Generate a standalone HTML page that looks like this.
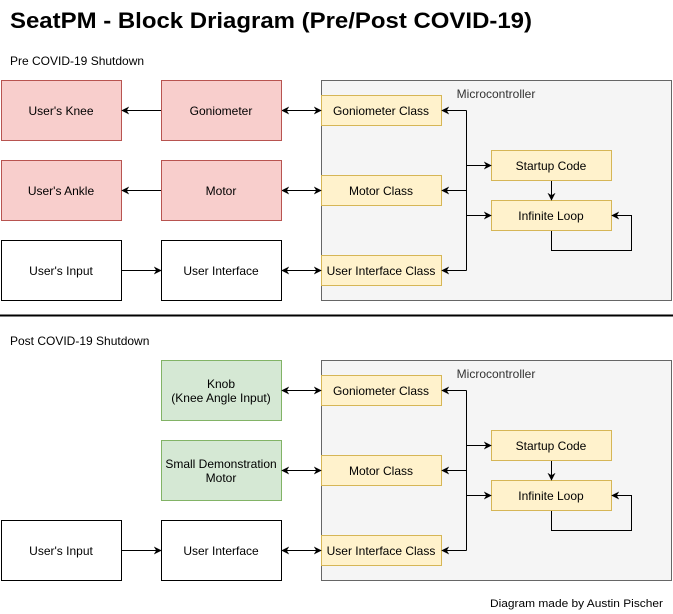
<!DOCTYPE html>
<html><head><meta charset="utf-8"><style>html,body{margin:0;padding:0;background:#fff}svg{display:block}</style></head>
<body>
<svg width="673" height="614" viewBox="0 0 673 614" xmlns="http://www.w3.org/2000/svg" font-family="'Liberation Sans', Arial, sans-serif">
<defs>
<marker id="a" viewBox="0 0 10 10" refX="9" refY="5" markerWidth="8" markerHeight="8" orient="auto-start-reverse" markerUnits="userSpaceOnUse"><path d="M0,0 L10,5 L0,10 L3,5 z" fill="#000"/></marker>
</defs>
<text x="10" y="28" font-size="22" font-weight="bold" textLength="522" lengthAdjust="spacingAndGlyphs">SeatPM - Block Driagram (Pre/Post COVID-19)</text>
<line x1="0" y1="315.5" x2="673" y2="315.5" stroke="#000" stroke-width="2"/>
<text x="10" y="65" font-size="12">Pre COVID-19 Shutdown</text>
<text x="10" y="345" font-size="12">Post COVID-19 Shutdown</text>
<text x="490" y="607" font-size="11" textLength="173" lengthAdjust="spacingAndGlyphs">Diagram made by Austin Pischer</text>

<g id="top">
<rect x="321.5" y="80.5" width="350" height="220" fill="#f5f5f5" stroke="#666"/>
<text x="496" y="98" font-size="12" fill="#333" text-anchor="middle">Microcontroller</text>
<g fill="#fff2cc" stroke="#d6b656">
<rect x="321.5" y="95.5" width="120" height="30"/>
<rect x="321.5" y="175.5" width="120" height="30"/>
<rect x="321.5" y="255.5" width="120" height="30"/>
<rect x="491.5" y="150.5" width="120" height="30"/>
<rect x="491.5" y="200.5" width="120" height="30"/>
</g>
<g font-size="12" text-anchor="middle">
<text x="381" y="115">Goniometer Class</text>
<text x="381" y="195">Motor Class</text>
<text x="381" y="275">User Interface Class</text>
<text x="551" y="170">Startup Code</text>
<text x="551" y="220">Infinite Loop</text>
</g>
<g stroke="#000" fill="none">
<polyline points="466.5,110.5 466.5,270.5"/>
<line x1="466.5" y1="110.5" x2="442" y2="110.5" marker-end="url(#a)"/>
<line x1="466.5" y1="190.5" x2="442" y2="190.5" marker-end="url(#a)"/>
<line x1="466.5" y1="270.5" x2="442" y2="270.5" marker-end="url(#a)"/>
<line x1="466.5" y1="165.5" x2="491" y2="165.5" marker-end="url(#a)"/>
<line x1="466.5" y1="215.5" x2="491" y2="215.5" marker-end="url(#a)"/>
<line x1="551.5" y1="181" x2="551.5" y2="200" marker-end="url(#a)"/>
<polyline points="551.5,231 551.5,250.5 631.5,250.5 631.5,215.5 612,215.5" marker-end="url(#a)"/>
<line x1="282" y1="110.5" x2="321" y2="110.5" marker-start="url(#a)" marker-end="url(#a)"/>
<line x1="282" y1="190.5" x2="321" y2="190.5" marker-start="url(#a)" marker-end="url(#a)"/>
<line x1="282" y1="270.5" x2="321" y2="270.5" marker-start="url(#a)" marker-end="url(#a)"/>
</g>
</g>

<g fill="#f8cecc" stroke="#b85450">
<rect x="1.5" y="80.5" width="120" height="60"/>
<rect x="161.5" y="80.5" width="120" height="60"/>
<rect x="1.5" y="160.5" width="120" height="60"/>
<rect x="161.5" y="160.5" width="120" height="60"/>
</g>
<g fill="#fff" stroke="#000">
<rect x="1.5" y="240.5" width="120" height="60"/>
<rect x="161.5" y="240.5" width="120" height="60"/>
<rect x="1.5" y="520.5" width="120" height="60"/>
<rect x="161.5" y="520.5" width="120" height="60"/>
</g>
<g fill="#d5e8d4" stroke="#82b366">
<rect x="161.5" y="360.5" width="120" height="60"/>
<rect x="161.5" y="440.5" width="120" height="60"/>
</g>
<g font-size="12" text-anchor="middle">
<text x="61" y="115">User's Knee</text>
<text x="221" y="115">Goniometer</text>
<text x="61" y="195">User's Ankle</text>
<text x="221" y="195">Motor</text>
<text x="61" y="275">User's Input</text>
<text x="221" y="275">User Interface</text>
<text x="61" y="555">User's Input</text>
<text x="221" y="555">User Interface</text>
<text x="221" y="388">Knob</text>
<text x="221" y="402">(Knee Angle Input)</text>
<text x="221" y="468">Small Demonstration</text>
<text x="221" y="482">Motor</text>
</g>
<g stroke="#000" fill="none">
<line x1="161" y1="110.5" x2="122" y2="110.5" marker-end="url(#a)"/>
<line x1="161" y1="190.5" x2="122" y2="190.5" marker-end="url(#a)"/>
<line x1="122" y1="270.5" x2="161" y2="270.5" marker-end="url(#a)"/>
<line x1="122" y1="550.5" x2="161" y2="550.5" marker-end="url(#a)"/>
</g>
<use href="#top" transform="translate(0,280)"/>
</svg>
</body></html>
